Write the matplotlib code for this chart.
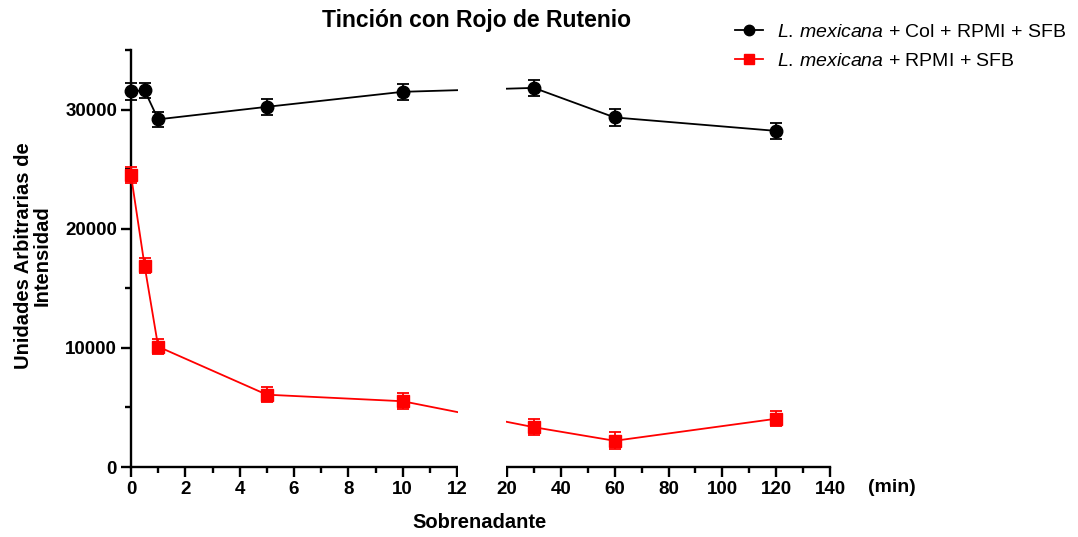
import matplotlib
matplotlib.use("Agg")
import matplotlib.pyplot as plt
from matplotlib.patches import ConnectionPatch, Rectangle
from matplotlib.ticker import MultipleLocator

plt.rcParams['font.family'] = ['Liberation Sans', 'DejaVu Sans']
plt.rcParams['mathtext.fontset'] = 'custom'
plt.rcParams['mathtext.rm'] = 'Liberation Sans'
plt.rcParams['mathtext.it'] = 'Liberation Sans:italic'

# Time points (min)
time_short = [0, 0.5, 1, 5, 10]
time_long = [30, 60, 120]

# L. mexicana + Col + RPMI + SFB
col_short = [31530, 31610, 29180, 30230, 31490]
col_short_err = [700, 650, 630, 670, 660]
col_long = [31820, 29340, 28210]
col_long_err = [670, 700, 670]

# L. mexicana + RPMI + SFB
ctrl_short = [24500, 16900, 10100, 6070, 5520]
ctrl_short_err = [670, 630, 630, 630, 670]
ctrl_long = [3340, 2200, 4050]
ctrl_long_err = [670, 700, 640]

label_col = r'$\it{L.\,mexicana}$ + Col + RPMI + SFB'
label_ctrl = r'$\it{L.\,mexicana}$ + RPMI + SFB'

W, H = 1078, 537
fig = plt.figure(figsize=(W / 100, H / 100), dpi=100)

bottom = 1 - 467 / H
height = (467 - 50) / H
ax1 = fig.add_axes([131 / W, bottom, (457 - 131) / W, height])
ax2 = fig.add_axes([507 / W, bottom, (830 - 507) / W, height])

lw_axis = 1.7
style_col = dict(color='black', marker='o', markersize=9, lw=1.3,
                 capsize=4, elinewidth=1.3, capthick=1.3)
style_ctrl = dict(color='#ff0000', marker='s', markersize=8, lw=1.3,
                  capsize=4, elinewidth=1.3, capthick=1.3)

c_col = ax1.errorbar(time_short, col_short, yerr=col_short_err, label=label_col,
                     clip_on=False, zorder=4, **style_col)
c_ctrl = ax1.errorbar(time_short, ctrl_short, yerr=ctrl_short_err, label=label_ctrl,
                      clip_on=False, zorder=4, **style_ctrl)
ax2.errorbar(time_long, col_long, yerr=col_long_err, zorder=4, **style_col)
ax2.errorbar(time_long, ctrl_long, yerr=ctrl_long_err, zorder=4, **style_ctrl)

# Segments joining the two halves of the broken axis
for ys, yl, c in [(col_short, col_long, 'black'), (ctrl_short, ctrl_long, '#ff0000')]:
    con = ConnectionPatch(xyA=(time_short[-1], ys[-1]), coordsA='data', axesA=ax1,
                          xyB=(time_long[0], yl[0]), coordsB='data', axesB=ax2,
                          color=c, lw=1.3, zorder=1)
    fig.add_artist(con)
# blank the gap between the two halves
fig.add_artist(Rectangle((458 / W, bottom - 0.02), (506 - 458) / W, height + 0.04,
                         transform=fig.transFigure, facecolor='white',
                         edgecolor='none', zorder=2))

for ax in (ax1, ax2):
    ax.set_ylim(0, 35000)
    ax.spines['top'].set_visible(False)
    ax.spines['right'].set_visible(False)
    ax.spines['bottom'].set_linewidth(lw_axis)
    ax.spines['left'].set_linewidth(lw_axis)
    ax.tick_params(axis='both', which='major', direction='out', length=7,
                   width=lw_axis, labelsize=13.5, pad=3)
    ax.tick_params(axis='both', which='minor', direction='out', length=4.5,
                   width=lw_axis)
    ax.set_facecolor('none')

ax1.set_xlim(0, 12)
ax1.xaxis.set_major_locator(MultipleLocator(2))
ax1.xaxis.set_minor_locator(MultipleLocator(1))
ax1.yaxis.set_major_locator(MultipleLocator(10000))
ax1.yaxis.set_minor_locator(MultipleLocator(5000))

ax2.set_xlim(20, 140)
ax2.xaxis.set_major_locator(MultipleLocator(20))
ax2.xaxis.set_minor_locator(MultipleLocator(10))
ax2.spines['left'].set_visible(False)
ax2.tick_params(axis='y', which='both', left=False, labelleft=False)

for ax in (ax1, ax2):
    for lab in ax.get_xticklabels() + ax.get_yticklabels():
        lab.set_fontweight('bold')

fig.text(477 / W, 1 - 20 / H, 'Tinción con Rojo de Rutenio', ha='center', va='center',
         fontsize=16.5, fontweight='bold')
fig.text(480 / W, 1 - 523 / H, 'Sobrenadante', ha='center', va='center',
         fontsize=14.5, fontweight='bold')
fig.text(892 / W, 1 - 488 / H, '(min)', ha='center', va='center',
         fontsize=14, fontweight='bold')
fig.text(33 / W, 1 - 256 / H, 'Unidades Arbitrarias de\nIntensidad', ha='center',
         va='center', rotation=90, fontsize=14.5, fontweight='bold', linespacing=0.95)

leg = fig.legend([c_col[0], c_ctrl[0]], [label_col, label_ctrl], loc='upper left',
                 bbox_to_anchor=(735 / W, 1 - 23 / H),
                 frameon=False, fontsize=14, handlelength=1.45, handletextpad=0.7,
                 labelspacing=0.6, borderpad=0, borderaxespad=0)
for h in leg.legend_handles:
    h.set_markersize(7.5)

fig.savefig('out.png', dpi=100)
